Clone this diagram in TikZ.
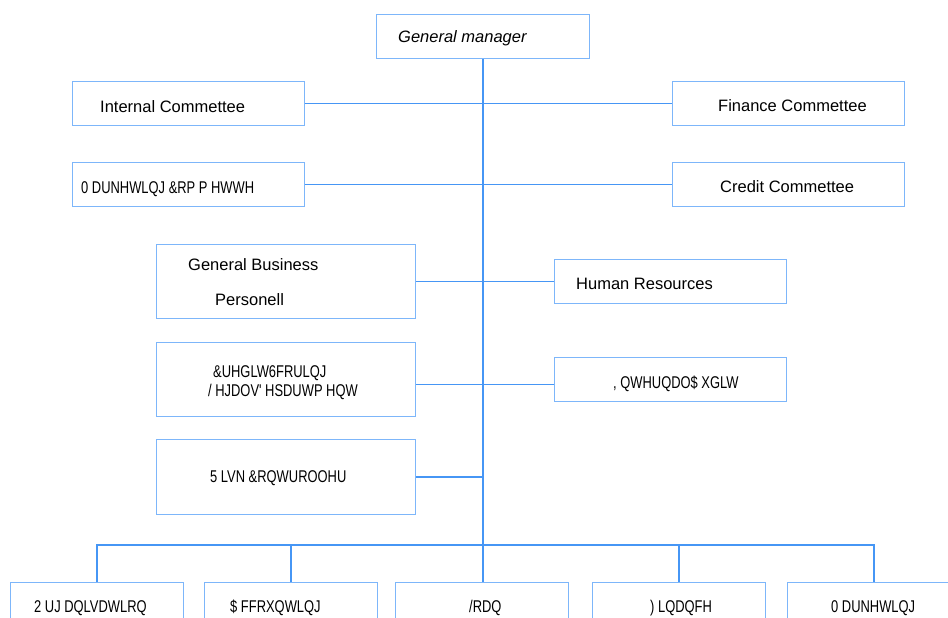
\documentclass[tikz,border=0pt]{standalone}
\usepackage{fontspec}
\setmainfont{Liberation Sans}
\newfontfamily\shiftfont[FakeStretch=0.76]{Liberation Sans}
\usetikzlibrary{positioning}
\definecolor{boxblue}{RGB}{125,182,250}
\definecolor{lineblue}{RGB}{70,150,245}

\begin{document}
\begin{tikzpicture}[x=1pt,y=-1pt,
  unit/.style={draw=boxblue,line width=1.2pt,anchor=north west,inner sep=0pt,
    minimum width=#1},
  unit/.default=232pt,
  lbl/.style={anchor=base west,inner sep=0pt,font=\fontsize{16.5}{20}\selectfont},
  glbl/.style={anchor=base west,inner sep=0pt,font=\fontsize{17}{20}\shiftfont},
  link/.style={draw=lineblue,line width=1.3pt}]
  \clip (0,0) rectangle (948,618);
  % top
  \node[unit=213pt,minimum height=44pt] (gm) at (376,14) {};
  \node[lbl,font=\fontsize{16.5}{20}\itshape] (gmt) at (398,43) {General manager};
  % committees
  \node[unit,minimum height=44pt] (ic) at (72,81) {};
  \node[unit,minimum height=44pt] (fc) at (672,81) {};
  \node[unit,minimum height=44pt] (mc) at (72,162) {};
  \node[unit,minimum height=44pt] (cc) at (672,162) {};
  \node[lbl] (ict) at (100,112) {Internal Commettee};
  \node[lbl] (fct) at (718,111) {Finance Commettee};
  \node[glbl] (mct) at (81,193) {0 DUNHWLQJ \&RP P HWWH};
  \node[lbl] (cct) at (720,192) {Credit Commettee};
  % departments
  \node[unit=259pt,minimum height=74pt] (gb) at (156,244) {};
  \node[unit=259pt,minimum height=74pt] (cs) at (156,342) {};
  \node[unit=259pt,minimum height=75pt] (rc) at (156,439) {};
  \node[unit,minimum height=44pt] (hr) at (554,259) {};
  \node[unit,minimum height=44pt] (ia) at (554,357) {};
  \node[lbl] (gbt) at (188,270) {General Business};
  \node[lbl] (gbt2) at (215,305) {Personell};
  \node[lbl] (hrt) at (576,289) {Human Resources};
  \node[glbl] (cst) at (213,377) {\&UHGLW6FRULQJ};
  \node[glbl] (cst2) at (208,396) {/ HJDOV' HSDUWP HQW};
  \node[glbl] (iat) at (613,388) {, QWHUQDO\$ XGLW};
  \node[glbl] (rct) at (210,482) {5 LVN \&RQWUROOHU};
  % divisions
  \node[unit=173pt,minimum height=60pt] (org) at (10,582) {};
  \node[unit=173pt,minimum height=60pt] (acc) at (204,582) {};
  \node[unit=173pt,minimum height=60pt] (loan) at (395,582) {};
  \node[unit=173pt,minimum height=60pt] (fin) at (592,582) {};
  \node[unit=173pt,minimum height=60pt] (mkt) at (787,582) {};
  \node[glbl] (orgt) at (34,612) {2 UJ DQLVDWLRQ};
  \node[glbl] (acct) at (230,612) {\$ FFRXQWLQJ};
  \node[glbl] (loant) at (469,612) {/RDQ};
  \node[glbl] (fint) at (650,612) {) LQDQFH};
  \node[glbl] (mktt) at (831,612) {0 DUNHWLQJ};
  \coordinate (bus) at (482.5,545);
  % links
  \draw[link] (gm.south) -- (gm.south |- loan.north);
  \draw[link] (ic.east) -- (fc.west);
  \draw[link] (mc.east) -- (cc.west);
  \draw[link] (gb.east) -- (hr.west);
  \draw[link] ([yshift=-5pt]cs.east) -- ([yshift=-5pt]ia.west);
  \draw[link] (rc.east) -- (rc.east -| bus);
  \draw[link,line width=1.8pt] (org.north) |- (bus) -| (mkt.north);
  \foreach \d in {acc,fin}
    \draw[link] (\d.north) -- (\d.north |- bus);
\end{tikzpicture}
\end{document}
